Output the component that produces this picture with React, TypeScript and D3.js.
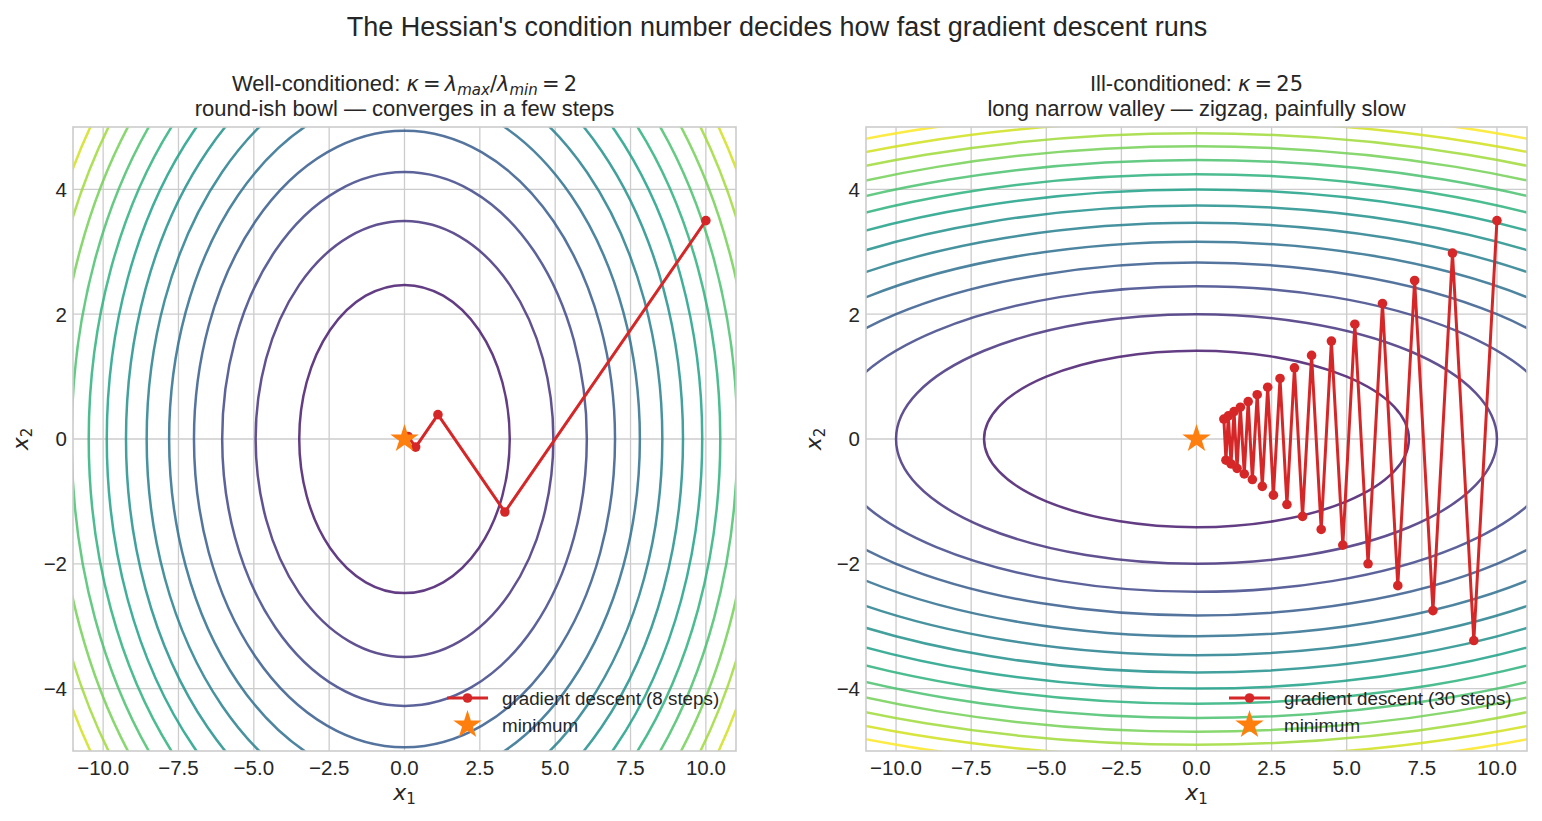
import React from 'react';
import * as d3 from 'd3';

// ---------- data ----------
const xTicks = [-10, -7.5, -5, -2.5, 0, 2.5, 5, 7.5, 10];
const yTicks = [-4, -2, 0, 2, 4];
const xDomain = [-11, 11];
const yDomain = [-5, 5];

// Hessian eigenvalues (lambda_1 along x1, lambda_2 along x2)
const leftEigen = [1, 2];
const rightEigen = [1, 25];

// contour levels of f(x) = 0.5 * (l1*x1^2 + l2*x2^2)
const leftLevels = [6.1, 12.2, 18.3, 24.4, 30.5, 36.6, 42.7, 48.8, 54.9, 61.0, 67.1, 73.2, 79.3, 85.4];
const rightLevels = [25, 50, 75, 100, 125, 150, 175, 200, 225, 250, 275, 300, 325, 350];

// gradient-descent iterates
const leftPathX = [10, 3.33, 1.11, 0.37, 0.12, 0.04, 0.01, 0.005, 0.002];
const leftPathY = [3.5, -1.17, 0.39, -0.13, 0.04, -0.01, 0.005, -0.002, 0.0005];

const rightPathX = [10, 9.23, 8.52, 7.87, 7.26, 6.70, 6.19, 5.71, 5.27, 4.87, 4.49, 4.15, 3.83, 3.53, 3.26, 3.01,
  2.78, 2.56, 2.37, 2.19, 2.02, 1.86, 1.72, 1.59, 1.46, 1.35, 1.25, 1.15, 1.06, 0.98, 0.91];
const rightPathY = [3.5, -3.23, 2.98, -2.75, 2.54, -2.35, 2.17, -2.00, 1.84, -1.70, 1.57, -1.45, 1.34, -1.24, 1.14, -1.05,
  0.97, -0.90, 0.83, -0.76, 0.71, -0.65, 0.60, -0.56, 0.51, -0.47, 0.44, -0.40, 0.37, -0.34, 0.32];

const minimum = [0, 0];

const mainTitle = "The Hessian's condition number decides how fast gradient descent runs";
const leftSubtitle = 'round-ish bowl \u2014 converges in a few steps';
const rightSubtitle = 'long narrow valley \u2014 zigzag, painfully slow';
const leftLegend = 'gradient descent (8 steps)';
const rightLegend = 'gradient descent (30 steps)';

// ---------- styling ----------
const W = 1542;
const H = 821;
const TEXT = '#262626';
const GRID = '#cccccc';
const RED = '#d62728';
const ORANGE = '#ff7f0e';
const SANS = '"Liberation Sans", Arial, sans-serif';
const MATH = '"DejaVu Sans", sans-serif';
const TICK_FS = 20.5;
const TITLE_FS = 22;
const MATH_FS = 21;
const LEGEND_FS = 18.8;
const LABEL_FS = 22;

const fmtTick = (v: number) => {
  const s = v.toFixed(1);
  return s.startsWith('-') ? '\u2212' + s.slice(1) : s;
};
const fmtInt = (v: number) => (v < 0 ? '\u2212' + Math.abs(v) : String(v));

type PanelProps = {
  left: number;
  right: number;
  top: number;
  bottom: number;
  eigen: number[];
  levels: number[];
  px: number[];
  py: number[];
  title1: React.ReactNode;
  title2: string;
  legendLabel: string;
  legendX: number;
  id: string;
};

function Panel(p: PanelProps) {
  const x = d3.scaleLinear().domain(xDomain).range([p.left, p.right]);
  const y = d3.scaleLinear().domain(yDomain).range([p.bottom, p.top]);
  const color = (i: number) => d3.interpolateViridis((i + 1) / p.levels.length);
  const line = d3
    .line<number>()
    .x((_, i) => x(p.px[i]))
    .y((_, i) => y(p.py[i]));
  const star = d3.symbol().type(d3.symbolStar).size(250)();
  const cx = (p.left + p.right) / 2;
  return (
    <g>
      <defs>
        <clipPath id={p.id}>
          <rect x={p.left} y={p.top} width={p.right - p.left} height={p.bottom - p.top} />
        </clipPath>
      </defs>
      {/* grid */}
      {xTicks.map((t) => (
        <line key={'gx' + t} x1={x(t)} x2={x(t)} y1={p.top} y2={p.bottom} stroke={GRID} strokeWidth={1.3} />
      ))}
      {yTicks.map((t) => (
        <line key={'gy' + t} x1={p.left} x2={p.right} y1={y(t)} y2={y(t)} stroke={GRID} strokeWidth={1.3} />
      ))}
      {/* contours */}
      <g clipPath={`url(#${p.id})`}>
        {p.levels.map((L, i) => {
          const a = Math.sqrt((2 * L) / p.eigen[0]);
          const b = Math.sqrt((2 * L) / p.eigen[1]);
          return (
            <ellipse
              key={'c' + i}
              cx={x(minimum[0])}
              cy={y(minimum[1])}
              rx={x(a) - x(0)}
              ry={y(0) - y(b)}
              fill="none"
              stroke={color(i)}
              strokeOpacity={0.85}
              strokeWidth={2.5}
            />
          );
        })}
        <path d={line(p.px) || ''} fill="none" stroke={RED} strokeWidth={3} strokeLinejoin="round" />
        {p.px.map((v, i) => (
          <circle key={'m' + i} cx={x(v)} cy={y(p.py[i])} r={4.8} fill={RED} />
        ))}
        <path d={star} transform={`translate(${x(minimum[0])},${y(minimum[1])})`} fill={ORANGE} />
      </g>
      {/* frame */}
      <rect x={p.left} y={p.top} width={p.right - p.left} height={p.bottom - p.top} fill="none" stroke={GRID} strokeWidth={1.6} />
      {/* tick labels */}
      {xTicks.map((t) => (
        <text key={'tx' + t} x={x(t)} y={p.bottom + 24} textAnchor="middle" fontSize={TICK_FS} fill={TEXT} fontFamily={SANS}>
          {fmtTick(t)}
        </text>
      ))}
      {yTicks.map((t) => (
        <text key={'ty' + t} x={p.left - 6} y={y(t) + 7.3} textAnchor="end" fontSize={TICK_FS} fill={TEXT} fontFamily={SANS}>
          {fmtInt(t)}
        </text>
      ))}
      {/* axis labels */}
      <text x={cx} y={p.bottom + 49} textAnchor="middle" fontSize={LABEL_FS} fill={TEXT} fontFamily={MATH}>
        <tspan fontStyle="italic">x</tspan>
        <tspan fontSize={15} dy={4}>1</tspan>
      </text>
      <text
        transform={`translate(${p.left - 45},${y(0)}) rotate(-90)`}
        textAnchor="middle"
        fontSize={LABEL_FS}
        fill={TEXT}
        fontFamily={MATH}
      >
        <tspan fontStyle="italic">x</tspan>
        <tspan fontSize={15} dy={4}>2</tspan>
      </text>
      {/* titles */}
      <text x={cx} y={p.top - 36} textAnchor="middle" fontSize={TITLE_FS} fill={TEXT} fontFamily={SANS}>
        {p.title1}
      </text>
      <text x={cx} y={p.top - 11} textAnchor="middle" fontSize={TITLE_FS} fill={TEXT} fontFamily={SANS}>
        {p.title2}
      </text>
      {/* legend */}
      <g>
        <line x1={p.legendX} x2={p.legendX + 41} y1={p.bottom - 53} y2={p.bottom - 53} stroke={RED} strokeWidth={3} />
        <circle cx={p.legendX + 20.5} cy={p.bottom - 53} r={4.8} fill={RED} />
        <text x={p.legendX + 55} y={p.bottom - 46.5} fontSize={LEGEND_FS} fill={TEXT} fontFamily={SANS}>
          {p.legendLabel}
        </text>
        <path d={star} transform={`translate(${p.legendX + 20.5},${p.bottom - 26})`} fill={ORANGE} />
        <text x={p.legendX + 55} y={p.bottom - 19.5} fontSize={LEGEND_FS} fill={TEXT} fontFamily={SANS}>
          minimum
        </text>
      </g>
    </g>
  );
}

export default function App() {
  const sub = 15;
  const leftTitle = (
    <>
      <tspan>Well-conditioned: </tspan>
      <tspan fontFamily={MATH} fontSize={MATH_FS} fontStyle="italic">κ</tspan>
      <tspan fontFamily={MATH} fontSize={MATH_FS}>{'\u2009=\u2009'}</tspan>
      <tspan fontFamily={MATH} fontSize={MATH_FS} fontStyle="italic">λ</tspan>
      <tspan fontFamily={MATH} fontStyle="italic" fontSize={sub} dy={4}>max</tspan>
      <tspan fontFamily={MATH} fontSize={MATH_FS} dy={-4}>/</tspan>
      <tspan fontFamily={MATH} fontSize={MATH_FS} fontStyle="italic">λ</tspan>
      <tspan fontFamily={MATH} fontStyle="italic" fontSize={sub} dy={4}>min</tspan>
      <tspan fontFamily={MATH} fontSize={MATH_FS} dy={-4}>{'\u2009=\u20092'}</tspan>
    </>
  );
  const rightTitle = (
    <>
      <tspan>Ill-conditioned: </tspan>
      <tspan fontFamily={MATH} fontSize={MATH_FS} fontStyle="italic">κ</tspan>
      <tspan fontFamily={MATH} fontSize={MATH_FS}>{'\u2009=\u200925'}</tspan>
    </>
  );
  return (
    <svg width={W} height={H} style={{ display: 'block', position: 'absolute', left: 0, top: 0, background: '#fff' }}>
      <rect width={W} height={H} fill="#fff" />
      <text x={777} y={35.5} textAnchor="middle" fontSize={27} fill={TEXT} fontFamily={SANS}>
        {mainTitle}
      </text>
      <Panel
        id="clipL"
        left={73}
        right={736}
        top={127}
        bottom={751}
        eigen={leftEigen}
        levels={leftLevels}
        px={leftPathX}
        py={leftPathY}
        title1={leftTitle}
        title2={leftSubtitle}
        legendLabel={leftLegend}
        legendX={447}
      />
      <Panel
        id="clipR"
        left={866}
        right={1527}
        top={127}
        bottom={751}
        eigen={rightEigen}
        levels={rightLevels}
        px={rightPathX}
        py={rightPathY}
        title1={rightTitle}
        title2={rightSubtitle}
        legendLabel={rightLegend}
        legendX={1229}
      />
    </svg>
  );
}
